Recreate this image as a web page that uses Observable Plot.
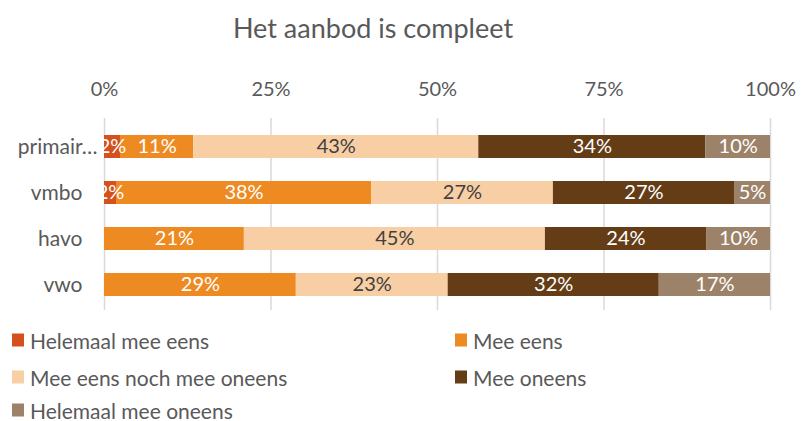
<!DOCTYPE html>
<html>
<head>
<meta charset="utf-8">
<script src="https://cdn.jsdelivr.net/npm/d3@7"></script>
<script src="https://cdn.jsdelivr.net/npm/@observablehq/plot@0.6"></script>
<style>
  html, body { margin: 0; padding: 0; background: #fff; }
  body { width: 804px; height: 421px; overflow: hidden; font-family: Lato, "Open Sans", sans-serif; color: #595959; }
  #title { height: 50px; position: relative; }
  #title span { position: absolute; left: 373px; top: 27px; transform: translate(-50%, -50%); font-size: 27px; white-space: nowrap; }
  #legend { position: relative; height: 101px; }
  .item { position: absolute; display: flex; align-items: center; font-size: 21px; white-space: nowrap; transform: translateY(-50%); }
  .sw { width: 12px; height: 13px; margin-right: 6px; }
</style>
</head>
<body>
<div id="title"><span>Het aanbod is compleet</span></div>
<div id="chart"></div>
<div id="legend"></div>
<script>
const categories = ["primair…", "vmbo", "havo", "vwo"];
const series = ["Helemaal mee eens", "Mee eens", "Mee eens noch mee oneens", "Mee oneens", "Helemaal mee oneens"];
const colors = ["#D4501C", "#EE8A22", "#F8CFA4", "#643D16", "#9C8268"];
const helemaalMeeEens   = [2.4, 1.8, 0, 0];
const meeEens           = [11.0, 38.3, 21.0, 28.8];
const neutraal          = [42.8, 27.3, 45.2, 22.8];
const meeOneens         = [34.1, 27.2, 24.2, 31.7];
const helemaalMeeOneens = [9.7, 5.4, 9.6, 16.7];
const labels = [
  ["2%", "11%", "43%", "34%", "10%"],
  ["2%", "38%", "27%", "27%", "5%"],
  ["", "21%", "45%", "24%", "10%"],
  ["", "29%", "23%", "32%", "17%"]
];
const xTicks = [0, 0.25, 0.5, 0.75, 1];

const columns = [helemaalMeeEens, meeEens, neutraal, meeOneens, helemaalMeeOneens];
const data = [];
categories.forEach((c, i) => {
  series.forEach((s, j) => {
    data.push({cat: c, series: s, value: columns[j][i] / 100, label: labels[i][j]});
  });
});

const chart = Plot.plot({
  width: 804,
  height: 270,
  marginLeft: 104,
  marginRight: 34,
  marginTop: 60,
  marginBottom: 0,
  style: {fontFamily: "Lato, 'Open Sans', sans-serif", color: "#595959", background: "#fff"},
  x: {domain: [0, 1], axis: null, label: null},
  y: {domain: categories, padding: 0.5, axis: null, label: null},
  color: {domain: series, range: colors},
  marks: [
    Plot.ruleX(xTicks, {stroke: "#D9D9D9", strokeWidth: 1.5, insetTop: 8, insetBottom: 10}),
    Plot.barX(data, Plot.stackX({x: "value", y: "cat", fill: "series", order: null})),
    Plot.text(data, Plot.stackX({x: "value", y: "cat", z: "series", order: null, text: "label",
      fill: d => d.series === series[2] ? "#404040" : "#ffffff", fontSize: 20})),
    Plot.axisX(xTicks, {anchor: "top", label: null, tickSize: 0, tickPadding: 15, tickFormat: d => Math.round(d * 100) + "%", fontSize: 20, fill: "#595959"}),
    Plot.axisY(categories.slice(1), {anchor: "left", label: null, tickSize: 0, tickPadding: 22, fontSize: 21, fill: "#595959"}),
    Plot.axisY(categories.slice(0, 1), {anchor: "left", label: null, tickSize: 0, tickPadding: 7, fontSize: 21, fill: "#595959"})
  ]
});
document.getElementById("chart").appendChild(chart);

const legendPos = [[12, 20], [455, 20], [12, 57], [455, 57], [12, 90]];
const legend = document.getElementById("legend");
series.forEach((s, i) => {
  const el = document.createElement("div");
  el.className = "item";
  el.style.left = legendPos[i][0] + "px";
  el.style.top = legendPos[i][1] + "px";
  el.innerHTML = `<span class="sw" style="background:${colors[i]}"></span><span>${s}</span>`;
  legend.appendChild(el);
});
</script>
</body>
</html>
